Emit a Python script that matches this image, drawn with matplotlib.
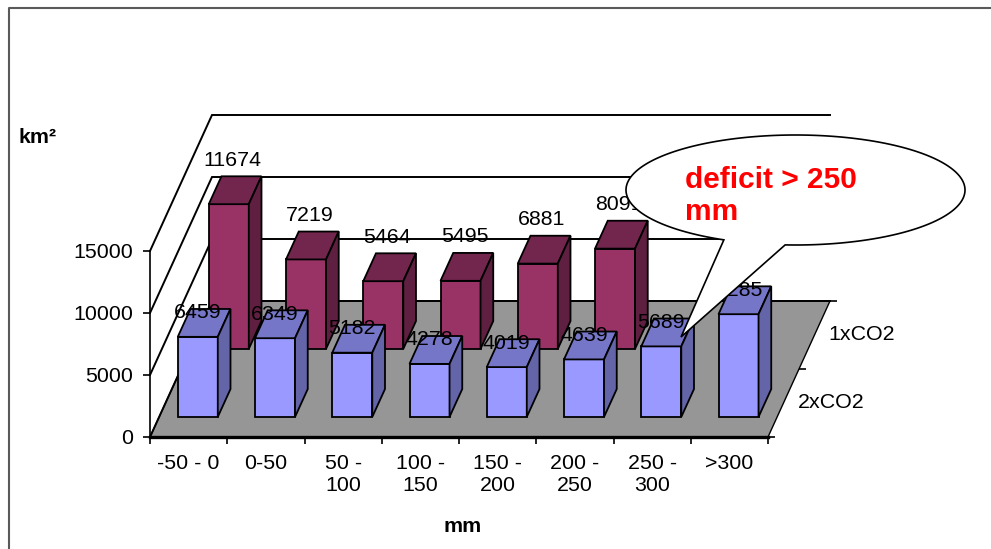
import numpy as np
import matplotlib
matplotlib.use("Agg")
import matplotlib.pyplot as plt
from matplotlib.patches import Polygon
from matplotlib.lines import Line2D
from matplotlib.markers import TICKRIGHT

plt.rcParams["font.family"] = ["Liberation Sans", "DejaVu Sans"]

# ---- data -------------------------------------------------------------
categories = ["-50 - 0", "0-50", "50 -\n100", "100 -\n150", "150 -\n200",
              "200 -\n250", "250 -\n300", ">300"]
series_names = ["2xCO2", "1xCO2"]
area_2xco2 = [6459, 6349, 5182, 4278, 4019, 4639, 5689, 8285]
area_1xco2 = [11674, 7219, 5464, 5495, 6881, 8091, None, None]
y_ticks = [0, 5000, 10000, 15000]

FS = 15.4

# ---- figure / axes ----------------------------------------------------
W, H, DPI = 991, 549, 100
fig = plt.figure(figsize=(W / DPI, H / DPI), dpi=DPI)
fig.patch.set_facecolor("white")

ax_left, ax_right, ax_bottom, ax_top = 150, 768, 437, 251   # pixel frame of front plane
ax = fig.add_axes([ax_left / W, 1 - ax_bottom / H,
                   (ax_right - ax_left) / W, (ax_bottom - ax_top) / H])
n = len(categories)
ymax = y_ticks[-1]
ax.set_xlim(0, n)
ax.set_ylim(0, ymax)
ax.patch.set_visible(False)

# oblique depth projection: full depth shifts by (62 px right, 136 px up)
px_per_x = (ax_right - ax_left) / n
px_per_y = (ax_bottom - ax_top) / ymax
DEPTH_X = 62 / px_per_x
DEPTH_Y = 136 / px_per_y


def proj(x, v, d):
    return (x + d * DEPTH_X, v + d * DEPTH_Y)


LW_WALL = 1.4
# walls: gridlines on back and side walls
for v in y_ticks:
    a, b, c = proj(0, v, 0), proj(0, v, 1), proj(n, v, 1)
    ax.add_line(Line2D([a[0], b[0], c[0]], [a[1], b[1], c[1]],
                       color="black", lw=LW_WALL, clip_on=False, zorder=1.5,
                       solid_joinstyle="miter"))

# floor
floor = [proj(0, 0, 0), proj(n, 0, 0), proj(n, 0, 1), proj(0, 0, 1)]
ax.add_patch(Polygon(floor, closed=True, fc="#969696", ec="black", lw=1.0,
                     clip_on=False, zorder=1))

BAR_W = 0.518
BAR_DEPTH = 0.205


def draw_bar(xc, v, dc, colors, z):
    d0, d1 = dc - BAR_DEPTH / 2, dc + BAR_DEPTH / 2
    x0, x1 = xc - BAR_W / 2, xc + BAR_W / 2
    front = [proj(x0, 0, d0), proj(x1, 0, d0), proj(x1, v, d0), proj(x0, v, d0)]
    top = [proj(x0, v, d0), proj(x1, v, d0), proj(x1, v, d1), proj(x0, v, d1)]
    side = [proj(x1, 0, d0), proj(x1, 0, d1), proj(x1, v, d1), proj(x1, v, d0)]
    for poly, col in zip((front, top, side), colors):
        ax.add_patch(Polygon(poly, closed=True, fc=col, ec="black", lw=1.3,
                             joinstyle="miter", clip_on=False, zorder=z))
    return proj(xc, v, d0)


rows = [
    # (values, depth centre, face colours, label offset in pixels)
    (area_1xco2, 0.75, ("#993366", "#73264D", "#5F1F40"), (4, 44)),
    (area_2xco2, 0.25, ("#9999FF", "#7676C8", "#6464A8"), (0, 24)),
]
z = 3
for vals, dc, cols, off in rows:
    for i, v in enumerate(vals):
        if v is None:
            continue
        anchor = draw_bar(i + 0.5, v, dc, cols, z)
        ax.annotate(f"{v}", xy=anchor, xytext=off, textcoords="offset pixels",
                    ha="center", va="center", fontsize=FS, zorder=z + 0.5,
                    annotation_clip=False)
    z += 1

# ---- axes decoration --------------------------------------------------
for s in ("top", "right"):
    ax.spines[s].set_visible(False)
ax.spines["left"].set_linewidth(1.2)
ax.spines["bottom"].set_linewidth(2.4)
ax.spines["bottom"].set_zorder(2)

ax.set_yticks(y_ticks)
ax.set_yticklabels([str(t) for t in y_ticks])
ax.tick_params(axis="y", direction="out", length=5, width=1.2, pad=7,
               labelsize=FS)

ax.set_xticks(np.arange(n + 1))
ax.set_xticklabels([])
ax.set_xticks(np.arange(n) + 0.5, minor=True)
ax.set_xticklabels(categories, minor=True)
ax.tick_params(axis="x", which="major", direction="out", length=5, width=1.2)
ax.tick_params(axis="x", which="minor", length=0, pad=12, labelsize=FS)

# depth axis along the right edge of the floor
dt = [0, 0.5, 1]
ax.plot([proj(n, 0, d)[0] for d in dt], [proj(n, 0, d)[1] for d in dt],
        ls="none", marker=TICKRIGHT, ms=5, mew=1.2, color="black",
        clip_on=False, zorder=2)
for name, d in zip(series_names, [0.25, 0.75]):
    ax.annotate(name, xy=proj(n, 0, d), xytext=(14, 0),
                textcoords="offset pixels", ha="left", va="center",
                fontsize=FS, annotation_clip=False)

fig.text(18 / W, 1 - 143 / H, "km²", fontsize=FS, fontweight="bold",
         ha="left", va="baseline")
fig.text(463 / W, 1 - 527 / H, "mm", fontsize=FS, fontweight="bold",
         ha="center", va="center")

# chart frame (left and top edges)
fig.add_artist(Line2D([9 / W, 9 / W, 1], [0, 1 - 8 / H, 1 - 8 / H],
                      transform=fig.transFigure, color="#5a5a5a", lw=1.5))

# ---- speech-bubble callout -------------------------------------------
cx, cy, ra, rb = 795.5, 190, 169.5, 55
t = np.deg2rad(np.linspace(115, 93.5 + 360, 300))
bx = np.r_[cx + ra * np.cos(t), 681]
by = np.r_[cy + rb * np.sin(t), 337]
bubble = np.column_stack([bx / W, 1 - by / H])
fig.add_artist(Polygon(bubble, closed=True, transform=fig.transFigure,
                       fc="white", ec="black", lw=1.2, zorder=10))
fig.text(685 / W, 1 - 220 / H, "deficit > 250\nmm", color="#FF0000",
         fontsize=21.5, fontweight="bold", ha="left", va="baseline",
         linespacing=1.2, zorder=11)

fig.savefig("out.png", dpi=DPI, facecolor="white")
